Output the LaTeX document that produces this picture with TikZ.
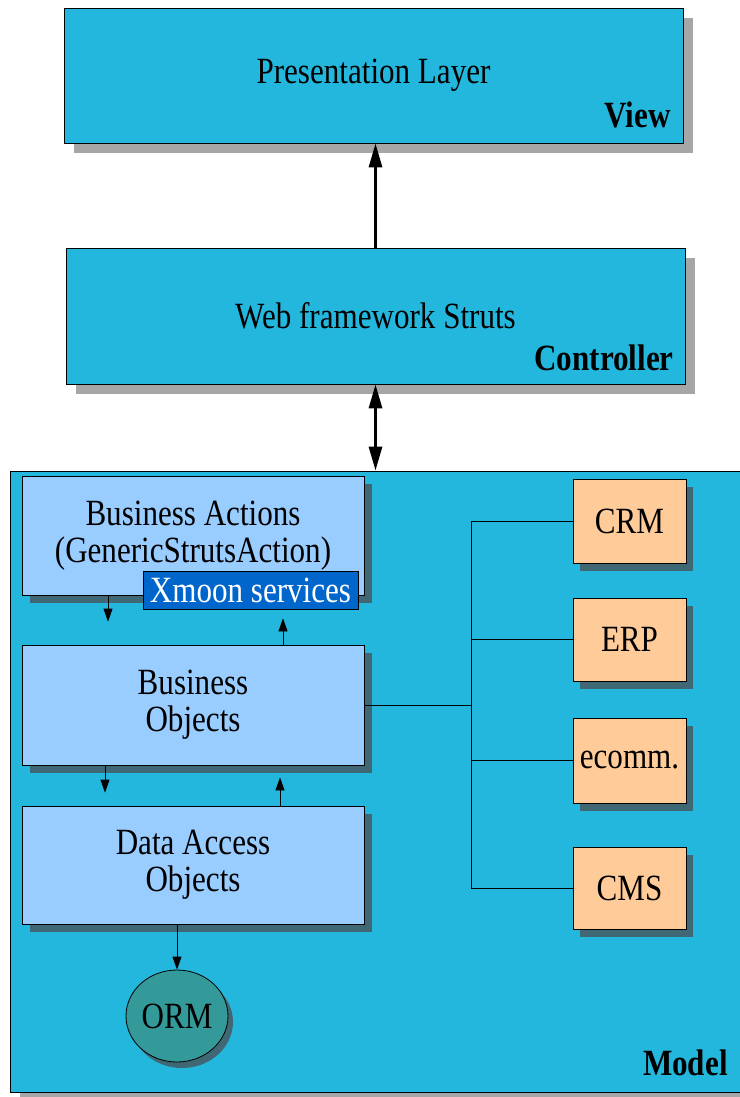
\documentclass[tikz,border=0pt]{standalone}
\usepackage{fontspec}
\setmainfont{Liberation Serif}[FakeStretch=0.84]
\usetikzlibrary{arrows.meta,shadows,shapes.geometric}

\definecolor{layercyan}{RGB}{36,183,221}
\definecolor{tierblue}{RGB}{153,204,255}
\definecolor{extpeach}{RGB}{255,204,153}
\definecolor{xmoonblue}{RGB}{0,102,204}
\definecolor{ormteal}{RGB}{51,153,153}
\definecolor{shadegray}{RGB}{166,166,166}
\definecolor{shadeslate}{RGB}{64,104,116}

\begin{document}
\begin{tikzpicture}[x=1pt,y=-1pt,line width=0.8pt,
                    >={Triangle[length=13pt,width=9pt]}]
  \tikzstyle{every node}=[font=\fontsize{37}{37}\selectfont,text=black]
  \tikzstyle{layer}=[draw,fill=layercyan,inner sep=0pt,
    drop shadow={shadow xshift=10pt,shadow yshift=-10pt,fill=shadegray,opacity=1}]
  \tikzstyle{tier}=[draw,fill=tierblue,align=center,inner sep=0pt,
    minimum width=342pt,
    drop shadow={shadow xshift=8pt,shadow yshift=-8pt,fill=shadeslate,opacity=1}]
  \tikzstyle{ext}=[draw,fill=extpeach,inner sep=0pt,minimum width=113pt,
    drop shadow={shadow xshift=7pt,shadow yshift=-8pt,fill=shadeslate,opacity=1}]
  \tikzstyle{tag}=[font=\fontsize{37}{37}\selectfont\bfseries,anchor=base east]
  \tikzstyle{bigarrow}=[line width=3pt,>={Triangle[length=24pt,width=13pt]}]

  \useasboundingbox (0,0) rectangle (739,1097);

  % the three layers
  \node[layer,minimum width=619pt,minimum height=135pt] (view) at (373.5,75.5)
    {Presentation Layer};
  \node[tag] (viewtag) at ([xshift=-9pt,yshift=16pt]view.south east) {View};

  \node[layer,minimum width=619pt,minimum height=136pt] (ctrl) at (375.5,316)
    {Web framework Struts};
  \node[tag] (ctrltag) at ([xshift=-8pt,yshift=14pt]ctrl.south east) {Controller};

  \node[layer,minimum width=735pt,minimum height=621pt,
        drop shadow={shadow xshift=10pt,shadow yshift=-6pt,fill=shadegray,opacity=1}]
        (model) at (377.5,781.5) {};
  \node[tag] (modeltag) at ([xshift=-14pt,yshift=17pt]model.south east) {Model};

  % inside the model
  \node[tier,minimum height=119pt] (ba) at (193,535.5)
    {Business Actions\\(GenericStrutsAction)};
  \node[fill=xmoonblue,draw=black,text=white,inner sep=0pt,
        minimum width=215pt,minimum height=38pt] (xmoon) at (250.5,590)
    {Xmoon services};
  \node[tier,minimum height=120pt] (bo) at (193,705) {Business\\Objects};
  \node[tier,minimum height=118pt] (dao) at (193,865) {Data Access\\Objects};
  \node[ellipse,draw,fill=ormteal,inner sep=0pt,minimum width=102pt,
        minimum height=92pt,
        drop shadow={shadow xshift=5pt,shadow yshift=-6pt,fill=shadeslate,opacity=1}]
        (orm) at (177,1016) {ORM};

  \node[ext,minimum height=84pt] (crm) at (629.5,521) {CRM};
  \node[ext,minimum height=83pt] (erp) at (629.5,639.5) {ERP};
  \node[ext,minimum height=85pt] (ecomm) at (629.5,760.5) {ecomm.};
  \node[ext,minimum height=82pt] (cms) at (629.5,888) {CMS};

  \coordinate (jn) at (471,705);

  % arrows between layers
  \draw[bigarrow,->] (ctrl.north) -- (ctrl.north |- view.south);
  \draw[bigarrow,<->] (ctrl.south) -- (ctrl.south |- model.north);

  \draw[->,shorten >=23pt] ([xshift=-85pt]ba.south) -- ([xshift=-85pt]ba.south |- bo.north);
  \draw[->,shorten >=9pt] ([xshift=90pt]bo.north) -- ([xshift=90pt]bo.north |- xmoon.south);
  \draw[->,shorten >=13pt] ([xshift=-88pt]bo.south) -- ([xshift=-88pt]bo.south |- dao.north);
  \draw[->,shorten >=12pt] ([xshift=87pt]dao.north) -- ([xshift=87pt]dao.north |- bo.south);
  \draw[->] (orm.north |- dao.south) -- (orm.north);

  % external systems
  \draw (bo.east) -- (jn);
  \draw (crm.west) -- (crm.west -| jn) -- (cms.west -| jn) -- (cms.west);
  \draw (erp.west) -- (erp.west -| jn);
  \draw (ecomm.west) -- (ecomm.west -| jn);
\end{tikzpicture}
\end{document}
